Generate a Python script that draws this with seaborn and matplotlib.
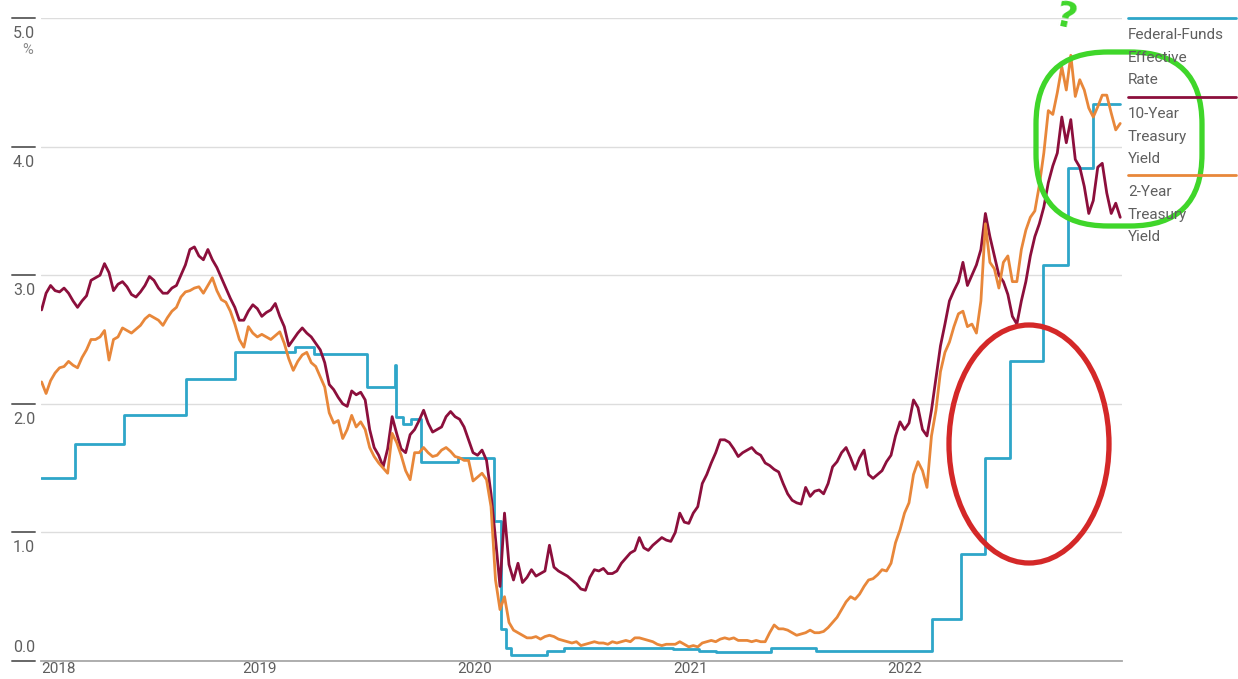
import numpy as np
import pandas as pd
import matplotlib
matplotlib.use("Agg")
import matplotlib.pyplot as plt
import matplotlib.transforms as mtransforms
from matplotlib.lines import Line2D
from matplotlib.patches import Ellipse, FancyBboxPatch
import seaborn as sns

# ---------------- data ----------------
y_ticks = [0.0, 1.0, 2.0, 3.0, 4.0, 5.0]
y_tick_labels = ["0.0", "1.0", "2.0", "3.0", "4.0", "5.0"]
year_ticks = ["2018-01-24", "2019-01-01", "2020-01-01", "2021-01-01", "2022-01-01"]
year_labels = ["2018", "2019", "2020", "2021", "2022"]

series_names = ["Federal-Funds\nEffective\nRate", "10-Year\nTreasury\nYield", "2-Year\nTreasury\nYield"]

fed_funds_dates = [
    "2018-01-24", "2018-03-22", "2018-06-14", "2018-09-27", "2018-12-20",
    "2019-04-01", "2019-05-02", "2019-08-01", "2019-09-17", "2019-09-19",
    "2019-10-01", "2019-10-15", "2019-10-31", "2020-01-02", "2020-03-04",
    "2020-03-16", "2020-03-24", "2020-04-01", "2020-06-01", "2020-07-01",
    "2021-01-01", "2021-02-15", "2021-03-15", "2021-06-17", "2021-09-01",
    "2022-03-17", "2022-05-05", "2022-06-16", "2022-07-28", "2022-09-22",
    "2022-11-03", "2022-12-15", "2023-01-31",
]
fed_funds_rate = [
    1.42, 1.69, 1.91, 2.19, 2.40,
    2.44, 2.39, 2.13, 2.30, 1.90,
    1.84, 1.88, 1.55, 1.58, 1.09,
    0.25, 0.10, 0.05, 0.08, 0.10,
    0.09, 0.08, 0.07, 0.10, 0.08,
    0.33, 0.83, 1.58, 2.33, 3.08,
    3.83, 4.33, 4.33,
]

yield_start, yield_end = "2018-01-25", "2023-01-31"

ten_year_yield = [
    2.73,
    # 2018
    2.86, 2.92, 2.88, 2.87, 2.90, 2.86, 2.80, 2.75, 2.80, 2.84, 2.96, 2.98,
    3.00, 3.09, 3.02, 2.88, 2.93, 2.95, 2.91, 2.85, 2.83, 2.87, 2.92, 2.99,
    2.96, 2.90, 2.86, 2.86, 2.90, 2.92, 3.00, 3.08, 3.20, 3.22, 3.15, 3.12,
    3.20, 3.12, 3.06, 2.98, 2.90, 2.82, 2.75, 2.65,
    # 2019
    2.65, 2.72, 2.77, 2.74, 2.68, 2.71, 2.73, 2.78, 2.68, 2.60, 2.45, 2.50,
    2.55, 2.59, 2.55, 2.52, 2.47, 2.42, 2.32, 2.15, 2.11, 2.05, 2.00, 1.98,
    2.10, 2.07, 2.09, 2.03, 1.80, 1.66, 1.60, 1.51, 1.65, 1.90, 1.77, 1.65,
    1.62, 1.76, 1.80, 1.87, 1.95, 1.85, 1.78, 1.80, 1.82, 1.90, 1.94, 1.90,
    # 2020
    1.88, 1.82, 1.72, 1.62, 1.60, 1.64, 1.56, 1.30, 0.95, 0.58, 1.15, 0.75,
    0.63, 0.76, 0.61, 0.65, 0.71, 0.66, 0.68, 0.70, 0.90, 0.73, 0.70, 0.68,
    0.66, 0.63, 0.60, 0.56, 0.55, 0.65, 0.71, 0.70, 0.72, 0.68, 0.68, 0.70,
    0.76, 0.80, 0.84, 0.86, 0.96, 0.88, 0.86, 0.90, 0.93, 0.96, 0.94, 0.93,
    # 2021
    1.00, 1.15, 1.08, 1.07, 1.15, 1.20, 1.38, 1.45, 1.54, 1.62, 1.72, 1.72,
    1.70, 1.65, 1.59, 1.62, 1.64, 1.66, 1.62, 1.60, 1.54, 1.52, 1.49, 1.47,
    1.38, 1.30, 1.25, 1.23, 1.22, 1.35, 1.28, 1.32, 1.33, 1.30, 1.38, 1.51,
    1.55, 1.62, 1.66, 1.58, 1.49, 1.58, 1.64, 1.45, 1.42, 1.45, 1.48, 1.55,
    # 2022
    1.60, 1.75, 1.86, 1.80, 1.85, 2.03, 1.97, 1.80, 1.75, 1.95, 2.20, 2.45,
    2.62, 2.80, 2.88, 2.95, 3.10, 2.92, 3.00, 3.08, 3.20, 3.48, 3.30, 3.15,
    3.00, 2.95, 2.85, 2.68, 2.62, 2.80, 2.95, 3.15, 3.30, 3.40, 3.53, 3.72,
    3.85, 3.95, 4.23, 4.03, 4.21, 3.90, 3.84, 3.69, 3.48, 3.58, 3.84, 3.87,
    # 2023
    3.64, 3.48, 3.56, 3.45,
]

two_year_yield = [
    2.17,
    # 2018
    2.08, 2.18, 2.24, 2.28, 2.29, 2.33, 2.30, 2.28, 2.36, 2.42, 2.50, 2.50,
    2.52, 2.57, 2.34, 2.50, 2.52, 2.59, 2.57, 2.55, 2.58, 2.61, 2.66, 2.69,
    2.67, 2.65, 2.61, 2.67, 2.72, 2.75, 2.83, 2.87, 2.88, 2.90, 2.91, 2.86,
    2.92, 2.98, 2.88, 2.81, 2.79, 2.72, 2.62, 2.50,
    # 2019
    2.44, 2.60, 2.55, 2.52, 2.54, 2.52, 2.50, 2.53, 2.56, 2.47, 2.35, 2.26,
    2.33, 2.38, 2.40, 2.32, 2.29, 2.21, 2.13, 1.93, 1.85, 1.87, 1.73, 1.80,
    1.91, 1.82, 1.86, 1.80, 1.66, 1.59, 1.54, 1.50, 1.46, 1.77, 1.70, 1.60,
    1.48, 1.41, 1.62, 1.62, 1.66, 1.62, 1.59, 1.60, 1.64, 1.66, 1.63, 1.59,
    # 2020
    1.58, 1.56, 1.56, 1.40, 1.43, 1.46, 1.41, 1.20, 0.63, 0.40, 0.50, 0.30,
    0.24, 0.22, 0.20, 0.18, 0.18, 0.19, 0.17, 0.19, 0.20, 0.19, 0.17, 0.16,
    0.15, 0.14, 0.15, 0.12, 0.13, 0.14, 0.15, 0.14, 0.14, 0.13, 0.15, 0.14,
    0.15, 0.16, 0.15, 0.18, 0.18, 0.17, 0.16, 0.15, 0.13, 0.12, 0.13, 0.13,
    # 2021
    0.13, 0.15, 0.13, 0.11, 0.12, 0.11, 0.14, 0.15, 0.16, 0.15, 0.17, 0.18,
    0.17, 0.18, 0.16, 0.16, 0.16, 0.15, 0.16, 0.15, 0.15, 0.22, 0.28, 0.25,
    0.25, 0.24, 0.22, 0.20, 0.21, 0.22, 0.24, 0.22, 0.22, 0.23, 0.26, 0.30,
    0.34, 0.40, 0.46, 0.50, 0.48, 0.52, 0.58, 0.63, 0.64, 0.67, 0.71, 0.70,
    # 2022
    0.76, 0.92, 1.02, 1.15, 1.23, 1.45, 1.55, 1.48, 1.35, 1.75, 1.95, 2.25,
    2.40, 2.48, 2.60, 2.70, 2.72, 2.60, 2.62, 2.55, 2.80, 3.40, 3.10, 3.05,
    2.90, 3.10, 3.15, 2.95, 2.95, 3.20, 3.35, 3.45, 3.50, 3.70, 3.95, 4.28,
    4.25, 4.42, 4.62, 4.44, 4.71, 4.39, 4.52, 4.44, 4.30, 4.23, 4.31, 4.40,
    # 2023
    4.40, 4.26, 4.13, 4.18,
]

# ---------------- style ----------------
sns.set_theme(style="white")
FONT = ["Roboto", "DejaVu Sans"]
plt.rcParams["font.family"] = FONT

C_FED = "#2ea6c9"
C_10Y = "#8c0f3c"
C_2Y = "#e8873a"
TXT = "#5f5f5f"

W, H = 1238, 679
fig = plt.figure(figsize=(W / 100, H / 100), dpi=100)
fig.patch.set_facecolor("white")

def fx(px):
    return px / W

def fy(py):
    return 1 - py / H

ax = fig.add_axes([fx(41), fy(661), fx(1122) - fx(41), fy(18) - fy(661)])

fed_df = pd.DataFrame({"date": pd.to_datetime(fed_funds_dates), "rate": fed_funds_rate})
ten_df = pd.DataFrame({
    "date": pd.date_range(yield_start, yield_end, periods=len(ten_year_yield)),
    "rate": ten_year_yield,
})
two_df = pd.DataFrame({
    "date": pd.date_range(yield_start, yield_end, periods=len(two_year_yield)),
    "rate": two_year_yield,
})

lw = 2.0
sns.lineplot(data=fed_df, x="date", y="rate", ax=ax, color=C_FED, lw=lw,
             drawstyle="steps-post", legend=False)
sns.lineplot(data=ten_df, x="date", y="rate", ax=ax, color=C_10Y, lw=lw, legend=False)
sns.lineplot(data=two_df, x="date", y="rate", ax=ax, color=C_2Y, lw=lw, legend=False)

ax.set_xlim(pd.Timestamp("2018-01-24"), pd.Timestamp("2023-02-03"))
ax.set_ylim(0, 5.0)
ax.set_xlabel("")
ax.set_ylabel("")

# grid & spines
ax.set_yticks(y_ticks)
ax.yaxis.grid(True, color="#dddddd", lw=1.0)
ax.xaxis.grid(False)
for s in ["left", "right", "top"]:
    ax.spines[s].set_visible(False)
ax.spines["bottom"].set_color("#a8a8a8")
ax.spines["bottom"].set_linewidth(1.3)
ax.tick_params(axis="y", left=False, labelleft=False)

ax.set_xticks(pd.to_datetime(year_ticks))
ax.set_xticklabels(year_labels, ha="left")
ax.tick_params(axis="x", length=0, pad=1, labelsize=11, labelcolor=TXT)

# y labels with short dashes
trans = mtransforms.blended_transform_factory(ax.transAxes, ax.transData)
x0 = (12 - 41) / (1122 - 41)
x1 = (35 - 41) / (1122 - 41)
for v, lab in zip(y_ticks, y_tick_labels):
    ax.plot([x0, x1], [v, v], transform=trans, color="#666666", lw=1.4, clip_on=False)
    if v > 0:
        ax.annotate(lab, xy=(x1, v), xycoords=trans, xytext=(0, -8),
                    textcoords="offset pixels", ha="right", va="top",
                    fontsize=11.5, color=TXT)
    else:
        ax.annotate(lab, xy=(x1, v), xycoords=trans, xytext=(0, 6),
                    textcoords="offset pixels", ha="right", va="bottom",
                    fontsize=11.5, color=TXT)
ax.annotate("%", xy=(x1, 5.0), xycoords=trans, xytext=(-2, -25),
            textcoords="offset pixels", ha="right", va="top", fontsize=10.5, color="#8a8a8a")

# custom legend on the right
leg_colors = [C_FED, C_10Y, C_2Y]
leg_line_y = [18, 97, 175]
for name, col, ly in zip(series_names, leg_colors, leg_line_y):
    fig.add_artist(Line2D([fx(1128), fx(1236)], [fy(ly), fy(ly)], color=col, lw=2.0))
    for i, line in enumerate(name.split("\n")):
        fig.text(fx(1128), fy(ly + 17 + i * 22.5), line, ha="left", va="center",
                 fontsize=11, color=TXT)

# hand-drawn style annotations
green = "#3fd62a"
fig.add_artist(FancyBboxPatch((1036, H - 226), 166, 174,
                              boxstyle="round,pad=0,rounding_size=72",
                              transform=mtransforms.IdentityTransform(),
                              fill=False, ec=green, lw=3.8))
fig.add_artist(Ellipse((1029, H - 444), 160, 238,
                       transform=mtransforms.IdentityTransform(),
                       fill=False, ec="#d42828", lw=3.8))
fig.text(fx(1066), fy(17), "?", color=green, fontsize=26, fontweight="bold",
         ha="center", va="center", rotation=-12, family=["DejaVu Sans"])

fig.savefig("out.png", dpi=100, facecolor="white")
